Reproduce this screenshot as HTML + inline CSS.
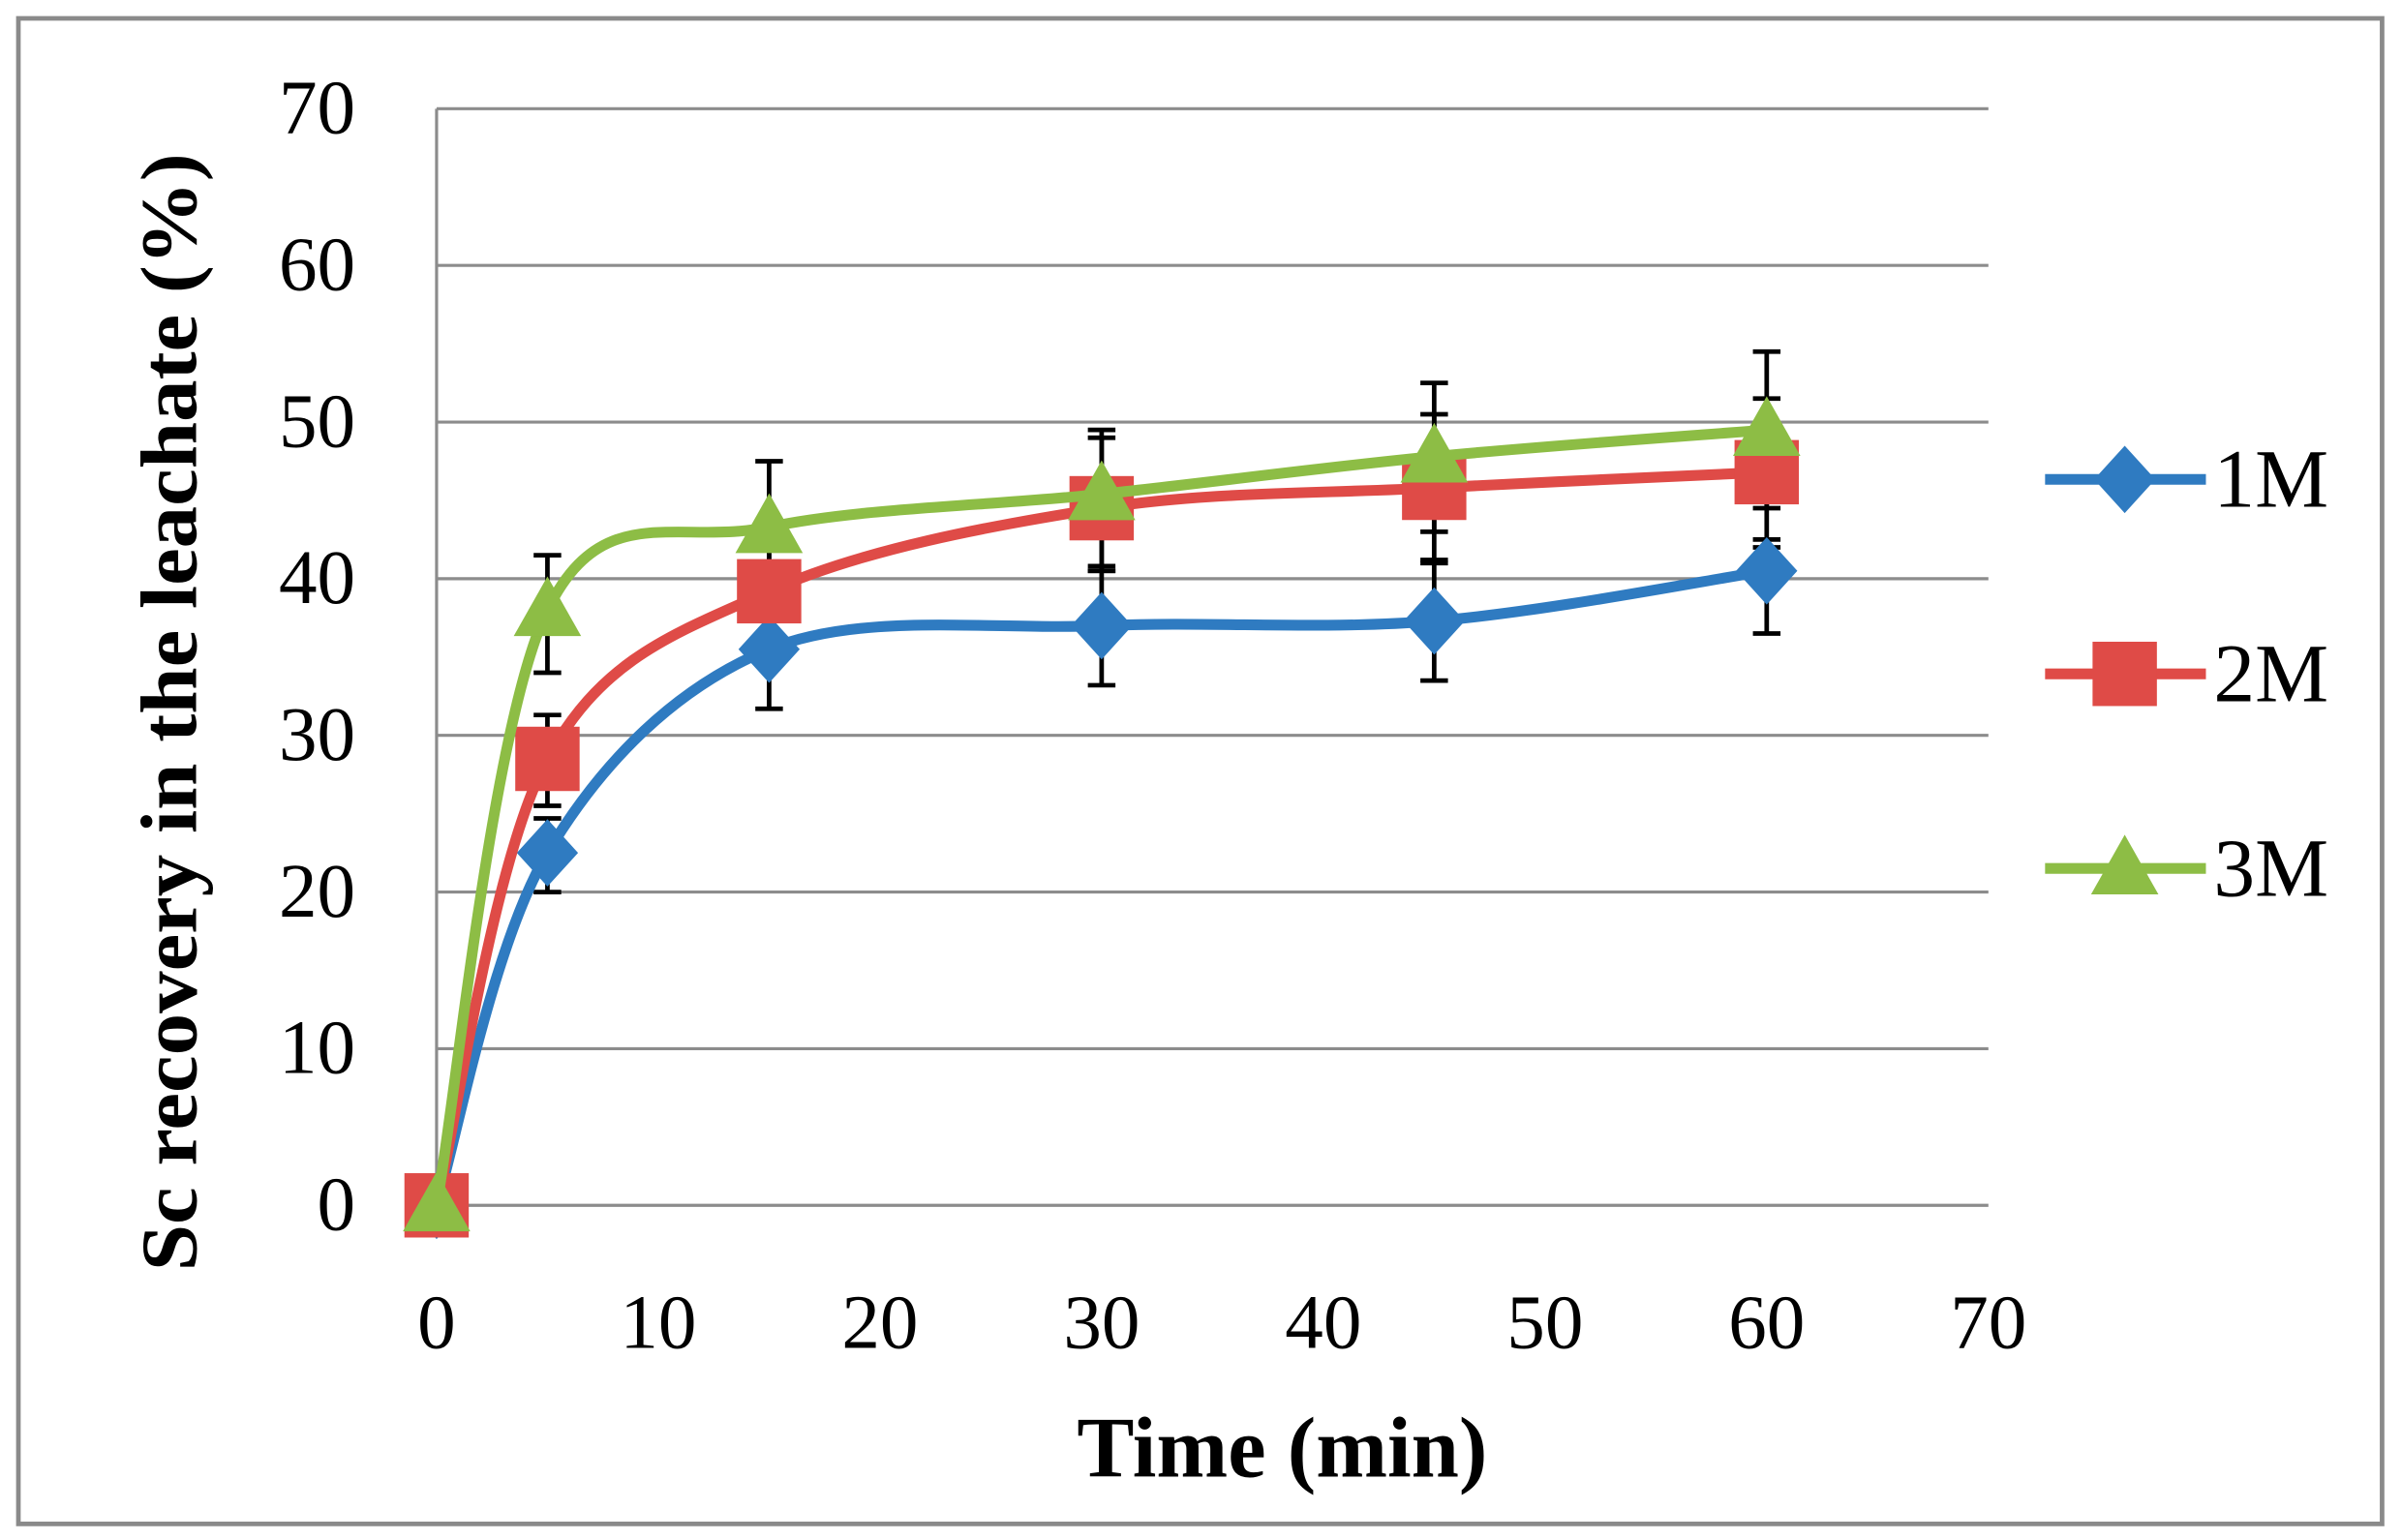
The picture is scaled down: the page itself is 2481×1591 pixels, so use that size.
<!DOCTYPE html>
<html><head><meta charset="utf-8"><style>
html,body{margin:0;padding:0;background:#fff;}
svg{display:block;}
text{font-family:"Liberation Serif",serif;}
</style></head><body>
<svg id="s" width="2481" height="1591" viewBox="0 0 1568 1005.5" preserveAspectRatio="none" xmlns="http://www.w3.org/2000/svg">
<rect x="0" y="0" width="1568" height="1005.5" fill="#fff"/>
<rect x="12" y="12" width="1543" height="983" fill="none" stroke="#8a8a8a" stroke-width="3"/>
<g id="grid"></g>
<g id="series"></g>
<g font-size="50" fill="#000" id="ticks"></g>
<text x="837" y="964" font-size="56" font-weight="bold" text-anchor="middle">Time (min)</text>
<text transform="translate(128,465) rotate(-90)" font-size="52" font-weight="bold" text-anchor="middle" textLength="730" lengthAdjust="spacingAndGlyphs">Sc recovery in the leachate (%)</text>
<g id="legend"></g>
</svg>
<script>
var NS="http://www.w3.org/2000/svg";
function X(v){return 285+v*(1298-285)/70;}
function Y(v){return 787-v*(787-71)/70;}
function el(p,t,a,txt){var e=document.createElementNS(NS,t);for(var k in a)e.setAttribute(k,a[k]);if(txt!=null)e.textContent=txt;document.getElementById(p).appendChild(e);return e;}
for(var i=0;i<=70;i+=10){
  el("grid","line",{x1:285,x2:1298,y1:Y(i),y2:Y(i),stroke:"#8c8c8c","stroke-width":2});
  el("ticks","text",{x:232,y:Y(i)+16,"text-anchor":"end"},i);
  el("ticks","text",{x:X(i),y:880,"text-anchor":"middle"},i);
}
el("grid","line",{x1:285,x2:285,y1:71,y2:787,stroke:"#8c8c8c","stroke-width":2});
var xs=[0,5,15,30,45,60];
var S=[
 {c:"#2F7BC1",d:[0,22.5,35.5,37,37.3,40.5],lo:[0,20,31.7,33.2,33.5,36.5],hi:[0,24.7,39.3,40.8,41,42],m:"d",ly:313,n:"1M"},
 {c:"#DF4B47",d:[0,28.5,39.2,44.5,45.8,46.8],lo:[0,25.5,35.5,40.5,41.2,42.5],hi:[0,31.3,43,49,50.5,51.5],m:"s",ly:440,n:"2M"},
 {c:"#8DBD45",d:[0,38,43.3,45.4,47.8,49.5],lo:[0,34,39.5,40.5,43,44.5],hi:[0,41.5,47.5,49.5,52.5,54.5],m:"t",ly:567,n:"3M"}
];
function path(pts){
  var d="M"+pts[0][0]+","+pts[0][1];
  for(var i=0;i<pts.length-1;i++){
    var p0=pts[Math.max(0,i-1)],p1=pts[i],p2=pts[i+1],p3=pts[Math.min(pts.length-1,i+2)];
    var t=0.5/3;
    var c1=[p1[0]+(p2[0]-p0[0])*t,p1[1]+(p2[1]-p0[1])*t];
    var c2=[p2[0]-(p3[0]-p1[0])*t,p2[1]-(p3[1]-p1[1])*t];
    d+=" C"+c1+" "+c2+" "+p2;
  }
  return d;
}
function marker(g,m,x,y,c){
  if(m=="d")el(g,"polygon",{points:(x)+","+(y-22)+" "+(x+20)+","+y+" "+x+","+(y+22)+" "+(x-20)+","+y,fill:c});
  else if(m=="s")el(g,"rect",{x:x-21,y:y-21,width:42,height:42,fill:c});
  else el(g,"polygon",{points:x+","+(y-22)+" "+(x+22)+","+(y+17)+" "+(x-22)+","+(y+17),fill:c});
}
S.forEach(function(s){
  for(var i=1;i<6;i++){
    var x=X(xs[i]);
    el("series","line",{x1:x,x2:x,y1:Y(s.lo[i]),y2:Y(s.hi[i]),stroke:"#000","stroke-width":3});
    el("series","line",{x1:x-9,x2:x+9,y1:Y(s.lo[i]),y2:Y(s.lo[i]),stroke:"#000","stroke-width":3});
    el("series","line",{x1:x-9,x2:x+9,y1:Y(s.hi[i]),y2:Y(s.hi[i]),stroke:"#000","stroke-width":3});
  }
});
S.forEach(function(s){
  var pts=xs.map(function(v,i){return [X(v),Y(s.d[i])];});
  el("series","path",{d:path(pts),fill:"none",stroke:s.c,"stroke-width":7});
  pts.forEach(function(p){marker("series",s.m,p[0],p[1],s.c);});
  el("legend","line",{x1:1335,x2:1440,y1:s.ly,y2:s.ly,stroke:s.c,"stroke-width":7});
  marker("legend",s.m,1387,s.ly,s.c);
  el("legend","text",{x:1445,y:s.ly+18,"font-size":54},s.n);
});
</script>
</body></html>
